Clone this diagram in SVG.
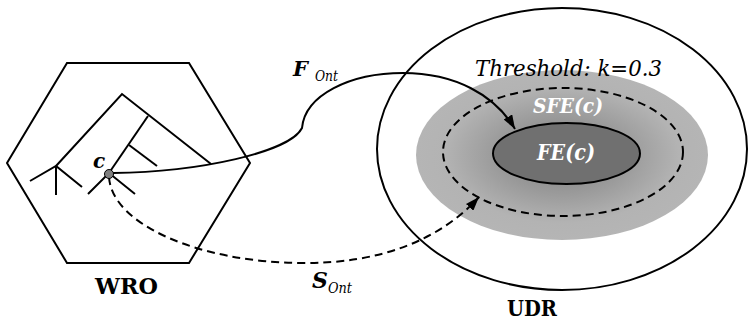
<svg xmlns="http://www.w3.org/2000/svg" width="749" height="321" viewBox="0 0 749 321">
<style>
.ln{fill:none;stroke:#000;stroke-width:2}
.dash{fill:none;stroke:#000;stroke-width:2;stroke-dasharray:8,5}
.bi{font-weight:bold;font-style:italic}
.it{font-style:italic}
.b{font-weight:bold}
.w{fill:#fff}
</style>
<defs>
<radialGradient id="g" cx="0.5" cy="0.5" r="0.5">
<stop offset="0" stop-color="#7c7c7c"/>
<stop offset="0.45" stop-color="#9a9a9a"/>
<stop offset="0.8" stop-color="#b3b3b3"/>
<stop offset="1" stop-color="#b5b5b5"/>
</radialGradient>
<marker id="ah" viewBox="0 0 14 10" refX="14" refY="5" markerWidth="14" markerHeight="10" markerUnits="userSpaceOnUse" orient="auto">
<path d="M0,0 L14,5 L0,10 Z" fill="#000"/>
</marker>
</defs>
<g font-family="DejaVu Serif">
<g id="WRO">
<polygon class="ln" points="67,63 189,63 250,163 189,263 67,263 7,163"/>
<g id="tree">
<polyline class="ln" points="56,166 122,94 211,164"/>
<polyline class="ln" points="30,181 56,166 82,187"/>
<line class="ln" x1="56" y1="166" x2="56" y2="195"/>
<line class="ln" x1="148" y1="116" x2="109" y2="173"/>
<line class="ln" x1="129" y1="145" x2="157" y2="166"/>
<polyline class="ln" points="88,194 109,173 135,194"/>
</g>
<text class="b" x="95" y="294" font-size="23" textLength="63" lengthAdjust="spacingAndGlyphs">WRO</text>
</g>
<g id="UDR">
<ellipse class="ln" cx="562" cy="149" rx="185" ry="141"/>
<text class="b" x="507" y="316" font-size="22" textLength="50" lengthAdjust="spacingAndGlyphs">UDR</text>
</g>
<g id="SFE">
<ellipse cx="562" cy="155" rx="146" ry="85" fill="url(#g)"/>
<ellipse class="dash" cx="563" cy="152" rx="120" ry="64"/>
<text class="bi" fill="#fff" x="533" y="113" font-size="21" textLength="70" lengthAdjust="spacingAndGlyphs">SFE(c)</text>
</g>
<g id="FE">
<ellipse cx="566.5" cy="153.5" rx="73.5" ry="30.5" fill="#707070" stroke="#000" stroke-width="2"/>
<text class="bi" fill="#fff" x="537" y="160" font-size="22" textLength="58" lengthAdjust="spacingAndGlyphs">FE(c)</text>
</g>
<g id="threshold">
<text class="it" x="475" y="76" font-size="23" textLength="187" lengthAdjust="spacingAndGlyphs">Threshold: k=0.3</text>
</g>
<g id="connectors">
<path id="F" class="ln" d="M113,173 C200,172 290,152 302,128 C305,95 350,73 403,73 C455,73 495,95 515,129" marker-end="url(#ah)"/>
<path id="S" class="dash" d="M109,177 C112,225 200,262 300,263 C380,264 440,240 479,197" marker-end="url(#ah)"/>
</g>
<g id="c">
<circle cx="109" cy="174" r="4.5" fill="#808080" stroke="#000" stroke-width="1"/>
<text class="bi" x="93" y="168" font-size="20">c</text>
</g>
<g id="labels">
<text class="bi" x="293" y="76" font-size="21">F</text>
<text class="it" x="315" y="81" font-size="14" textLength="23" lengthAdjust="spacingAndGlyphs">Ont</text>
<text class="bi" x="312" y="288" font-size="22">S</text>
<text class="it" x="328" y="293" font-size="14" textLength="24" lengthAdjust="spacingAndGlyphs">Ont</text>
</g>
</g>
</svg>
